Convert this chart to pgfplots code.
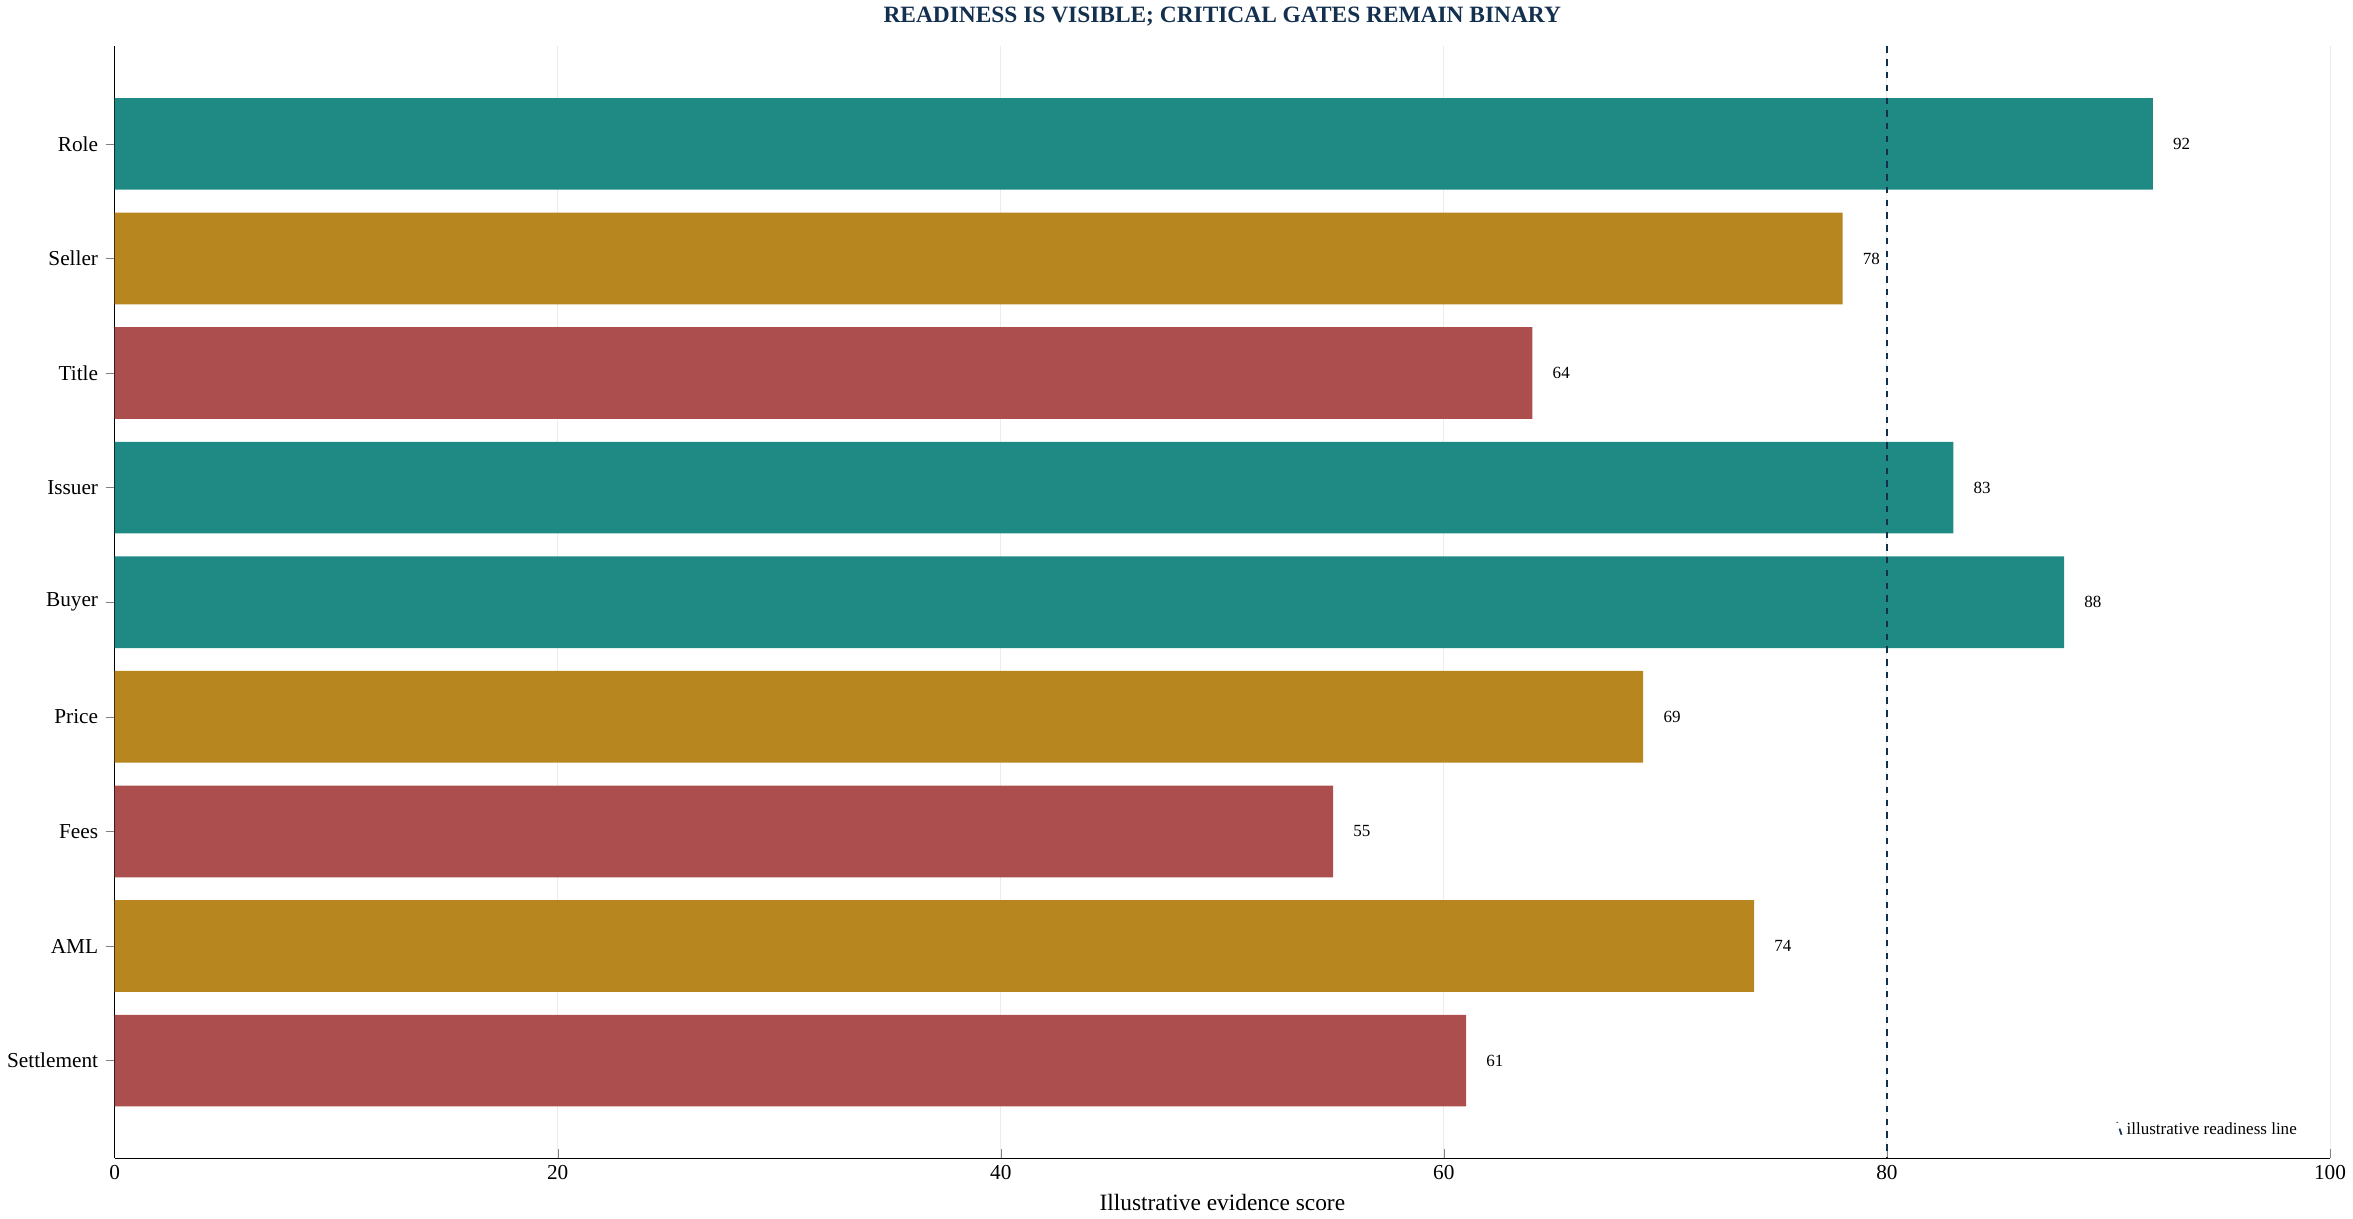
\documentclass[border=0pt]{standalone}
\usepackage{pgfplots}
\pgfplotsset{compat=1.18}
\usepackage{fontspec}
\setmainfont{Liberation Serif}
\definecolor{teal1}{HTML}{1F8A84}
\definecolor{gold1}{HTML}{B8861F}
\definecolor{red1}{HTML}{AD4E4E}
\definecolor{navy1}{HTML}{14304F}
\begin{document}
\begin{tikzpicture}
\begin{axis}[
  scale only axis, width=14.41in, height=7.23in,
  xbar, bar shift=0pt, bar width=0.8,
  xmin=0, xmax=100, ymin=-0.85, ymax=8.85, y dir=reverse,
  axis x line*=bottom, axis y line*=left,
  xtick={0,20,...,100}, ytick={0,...,8},
  yticklabels={Role,Seller,Title,Issuer,Buyer,Price,Fees,AML,Settlement},
  xmajorgrids, major grid style={gray!15},
  tick label style={font=\fontsize{10}{12}\selectfont},
  /pgf/number format/assume math mode=true,
  xlabel={Illustrative evidence score}, xlabel style={font=\fontsize{11}{13}\selectfont},
  title={\textbf{READINESS IS VISIBLE; CRITICAL GATES REMAIN BINARY}},
  title style={font=\fontsize{11}{13}\selectfont, text=navy1},
  nodes near coords, nodes near coords style={font=\fontsize{8}{10}\selectfont, text=black, xshift=6pt},
  legend style={draw=none, fill=none, at={(0.99,0.01)}, anchor=south east, font=\fontsize{8}{10}\selectfont},
  legend cell align=left,
]
\addplot[draw=none, fill=teal1, forget plot] coordinates {(92,0)(83,3)(88,4)};
\addplot[draw=none, fill=gold1, forget plot] coordinates {(78,1)(69,5)(74,7)};
\addplot[draw=none, fill=red1, forget plot] coordinates {(64,2)(55,6)(61,8)};
\addplot[sharp plot, navy1, dashed, thick, nodes near coords={}, no marks] coordinates {(80,-0.85)(80,8.85)};
\addlegendentry{illustrative readiness line}
\end{axis}
\end{tikzpicture}
\end{document}
